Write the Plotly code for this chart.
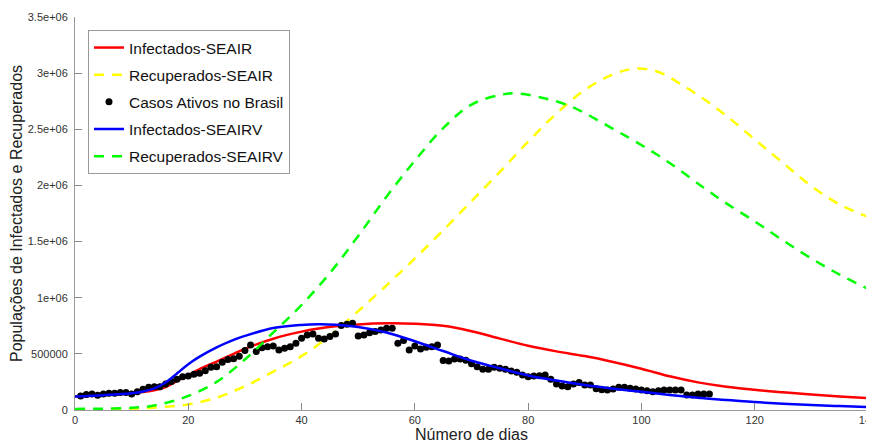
import plotly.graph_objects as go

# ---- data ----
days_model = [0, 5, 10, 12, 14, 16, 18, 20, 22, 25, 28, 30, 35, 40, 43, 46, 50, 55, 60, 65, 70, 75,
              80, 85, 90, 95, 100, 105, 110, 115, 120, 125, 130, 135, 140]

inf_seair = [120000, 132000, 150000, 160000, 175000, 205000, 258000, 310000, 365000, 431000, 500000, 545000,
             635000, 698000, 725000, 745000, 762000, 772000, 768000, 750000, 702000, 636000,
             572000, 522000, 480000, 428000, 368000, 300000, 246000, 207000, 180000, 158000, 138000, 120000, 105000]

inf_seairv = [120000, 132000, 150000, 165000, 192000, 245000, 325000, 408000, 475000, 558000, 625000, 660000,
              730000, 758000, 764000, 760000, 740000, 690000, 612000, 525000, 438000, 372000,
              308000, 262000, 222000, 190000, 162000, 134000, 110000, 88000, 71000, 56000, 44000, 35000, 27000]

days_rec_a = [0, 5, 10, 13, 16, 20, 25, 30, 35, 40, 45, 50, 55, 60, 65, 70, 75, 80, 85, 90, 95, 99,
              103, 107, 111, 115, 120, 125, 130, 135, 140]

rec_seair = [5000, 7000, 12000, 18000, 28000, 50000, 110000, 212000, 342000, 480000, 660000, 880000,
             1110000, 1350000, 1600000, 1860000, 2120000, 2390000, 2640000, 2850000, 2990000, 3040000,
             3010000, 2900000, 2770000, 2620000, 2410000, 2200000, 1995000, 1830000, 1720000]

days_rec_v = [0, 5, 10, 13, 16, 20, 25, 30, 35, 40, 45, 50, 55, 60, 65, 70, 75, 78, 83, 87, 90, 93, 96, 99,
              105, 111, 115, 120, 125, 130, 135, 140]

rec_seairv = [10000, 12000, 20000, 32000, 62000, 125000, 250000, 450000, 690000, 935000, 1220000, 1550000,
              1900000, 2220000, 2510000, 2720000, 2805000, 2820000, 2775000, 2715000, 2645000, 2560000, 2475000,
              2390000, 2200000, 1980000, 1840000, 1680000, 1510000, 1350000, 1205000, 1080000]

days_obs = list(range(1, 113))
casos_ativos = [125000, 137000, 143000, 131000, 143000, 149000, 149000, 155000, 155000, 143000,
                163000, 184000, 202000, 208000, 208000, 232000, 253000, 273000, 297000, 303000,
                318000, 327000, 350000, 380000, 386000, 425000, 450000, 456000, 478000, 529000,
                578000, 520000, 555000, 564000, 570000, 535000, 550000, 564000, 594000, 639000,
                668000, 677000, 639000, 633000, 654000, 677000, 752000, 764000, 773000, 660000,
                668000, 689000, 698000, 713000, 728000, 728000, 594000, 618000, 535000, 570000,
                544000, 559000, 564000, 579000, 440000, 437000, 455000, 455000, 443000, 413000,
                386000, 363000, 363000, 380000, 371000, 363000, 348000, 336000, 312000, 297000,
                303000, 306000, 312000, 273000, 232000, 214000, 208000, 232000, 244000, 223000,
                223000, 190000, 180000, 178000, 187000, 202000, 202000, 193000, 187000, 178000,
                172000, 163000, 172000, 178000, 178000, 178000, 178000, 134000, 134000, 143000,
                143000, 143000]

x_ticks = [0, 20, 40, 60, 80, 100, 120, 140]
y_ticks = [0, 500000, 1000000, 1500000, 2000000, 2500000, 3000000, 3500000]
y_tick_text = ["0", "500000", "1e+06", "1.5e+06", "2e+06", "2.5e+06", "3e+06", "3.5e+06"]

line_shape = dict(shape="spline", smoothing=1.0)

fig = go.Figure()
fig.add_trace(go.Scatter(x=days_model, y=inf_seair, mode="lines", name="Infectados-SEAIR",
                         legendgroup="a", line=dict(color="#ff0000", width=2.5, **line_shape)))
fig.add_trace(go.Scatter(x=days_rec_a, y=rec_seair, mode="lines", name="Recuperados-SEAIR",
                         legendgroup="b", line=dict(color="#ffff00", width=2.5, dash="10px,8px", **line_shape)))
fig.add_trace(go.Scatter(x=days_obs, y=casos_ativos, mode="markers", name="Casos Ativos no Brasil",
                         legendgroup="c", marker=dict(color="black", size=7)))
fig.add_trace(go.Scatter(x=days_model, y=inf_seairv, mode="lines", name="Infectados-SEAIRV",
                         legendgroup="d", line=dict(color="#0000ff", width=2.5, **line_shape)))
fig.add_trace(go.Scatter(x=days_rec_v, y=rec_seairv, mode="lines", name="Recuperados-SEAIRV",
                         legendgroup="e", line=dict(color="#00ff00", width=2.5, dash="10px,8px", **line_shape)))

fig.update_layout(
    width=866, height=436,
    margin=dict(l=67, r=6, t=9, b=34),
    plot_bgcolor="white", paper_bgcolor="white",
    font=dict(family="Liberation Sans, Arial, sans-serif", color="#222222"),
    showlegend=True,
    legend=dict(x=0.0164, y=0.967, xanchor="left", yanchor="top",
                bgcolor="white", bordercolor="#999999", borderwidth=1,
                font=dict(size=15.5, color="#111111"), tracegroupgap=4,
                itemwidth=30, traceorder="grouped"),
)
fig.update_xaxes(range=[0, 140], tickvals=x_ticks, ticks="inside", ticklen=7, tickcolor="#888888",
                 showline=True, linecolor="#999999", linewidth=1, showgrid=False, zeroline=False,
                 automargin=False, ticklabeloverflow="allow",
                 tickfont=dict(size=11, color="#333333"),
                 title=dict(text="Número de dias", font=dict(size=16, color="#222222"), standoff=2))
fig.update_yaxes(range=[0, 3500000], tickvals=y_ticks, ticktext=y_tick_text, ticks="inside", ticklen=7,
                 tickcolor="#888888", showline=True, linecolor="#999999", linewidth=1, showgrid=False,
                 zeroline=False, automargin=False, tickfont=dict(size=11, color="#333333"), ticklabelstandoff=4,
                 title=dict(text="Populações de Infectados e Recuperados", font=dict(size=16, color="#222222"),
                            standoff=6))

fig.write_html("out.html")
